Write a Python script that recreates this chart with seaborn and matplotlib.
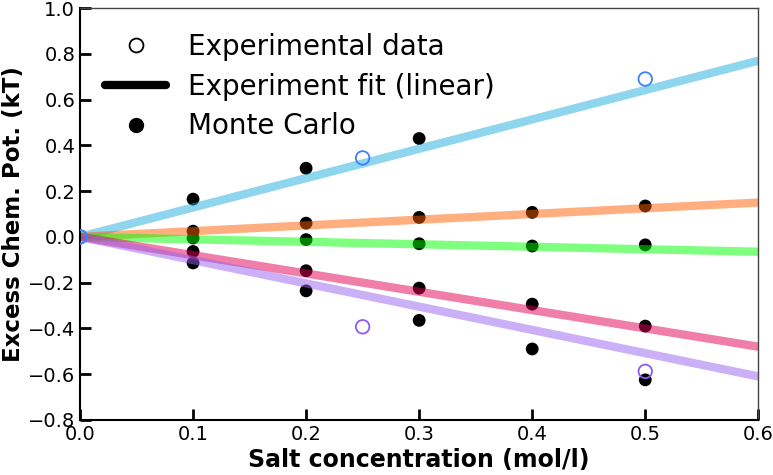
import numpy as np
import pandas as pd
import matplotlib
matplotlib.use("Agg")
import matplotlib.pyplot as plt
from matplotlib.lines import Line2D
import seaborn as sns

sns.set_style("ticks")
plt.rcParams["font.family"] = ["DejaVu Sans"]
plt.rcParams["text.color"] = "black"
plt.rcParams["axes.labelcolor"] = "black"

# Datos
conc = [0.1, 0.2, 0.3, 0.4, 0.5]
mc_blue = [0.165, 0.30, 0.43, np.nan, np.nan]
mc_orange = [0.025, 0.06, 0.085, 0.107, 0.135]
mc_green = [-0.005, -0.012, -0.03, -0.04, -0.035]
mc_pink = [-0.064, -0.148, -0.224, -0.294, -0.39]
mc_lav = [-0.114, -0.236, -0.365, -0.49, -0.625]

fit_x = [0.0, 0.6]
fit_blue = [0.0, 0.77]
fit_orange = [0.0, 0.15]
fit_green = [0.0, -0.065]
fit_pink = [0.0, -0.48]
fit_lav = [0.0, -0.61]

exp_blue_x = [0.0, 0.25, 0.5]
exp_blue_y = [0.0, 0.345, 0.69]
exp_purple_x = [0.0, 0.25, 0.5]
exp_purple_y = [0.0, -0.393, -0.588]

fits = [(fit_blue, "#1fadde"), (fit_orange, "#ff6100"), (fit_green, "#00ff00"),
        (fit_pink, "#e00052"), (fit_lav, "#9961f0")]

fig = plt.figure(figsize=(7.73, 4.75), dpi=100)
ax = fig.add_axes([0.1035, 0.116, 0.8775, 0.867])

# Monte Carlo (debajo de las lineas)
for serie in [mc_blue, mc_orange, mc_green, mc_pink, mc_lav]:
    d = pd.DataFrame({"x": conc, "y": serie}).dropna()
    sns.scatterplot(data=d, x="x", y="y", ax=ax, color="black", s=85,
                    edgecolor="none", zorder=1, legend=False)

# Ajustes lineales
for vals, c in fits:
    sns.lineplot(x=fit_x, y=vals, ax=ax, color=c, lw=6, alpha=0.5, zorder=2)

# Datos experimentales
sns.scatterplot(x=exp_purple_x, y=exp_purple_y, ax=ax, facecolor="none",
                edgecolor="#8a5cf5", linewidth=1.3, s=95, zorder=3)
sns.scatterplot(x=exp_blue_x, y=exp_blue_y, ax=ax, facecolor="none",
                edgecolor="#3b82f6", linewidth=1.3, s=95, zorder=3)

ax.set_xlim(0, 0.6)
ax.set_ylim(-0.8, 1.0)
ax.set_xticks([0.0, 0.1, 0.2, 0.3, 0.4, 0.5, 0.6])
ax.set_yticks(np.round(np.arange(-0.8, 1.01, 0.2), 1))
ax.tick_params(direction="in", length=8, width=2, labelsize=14, colors="black",
               top=False, right=False)
for s in ["left", "bottom"]:
    ax.spines[s].set_color("black")
    ax.spines[s].set_linewidth(1.5)
for s in ["top", "right"]:
    ax.spines[s].set_color("#444444")
    ax.spines[s].set_linewidth(1.0)

ax.set_xlabel("Salt concentration (mol/l)", fontsize=17, fontweight="bold", labelpad=3)
ax.set_ylabel("Excess Chem. Pot. (kT)", fontsize=16.5, fontweight="bold", labelpad=2)

handles = [
    Line2D([], [], marker="o", ls="none", mfc="none", mec="black", ms=10, mew=1.3),
    Line2D([], [], color="black", lw=6),
    Line2D([], [], marker="o", ls="none", color="black", ms=10),
]
labels = ["Experimental data", "Experiment fit (linear)", "Monte Carlo"]
ax.legend(handles, labels, loc="upper left", frameon=False, fontsize=20,
          handlelength=2.2, handletextpad=0.8, borderaxespad=0.5, labelspacing=0.42)

fig.savefig("out.png", dpi=100)
